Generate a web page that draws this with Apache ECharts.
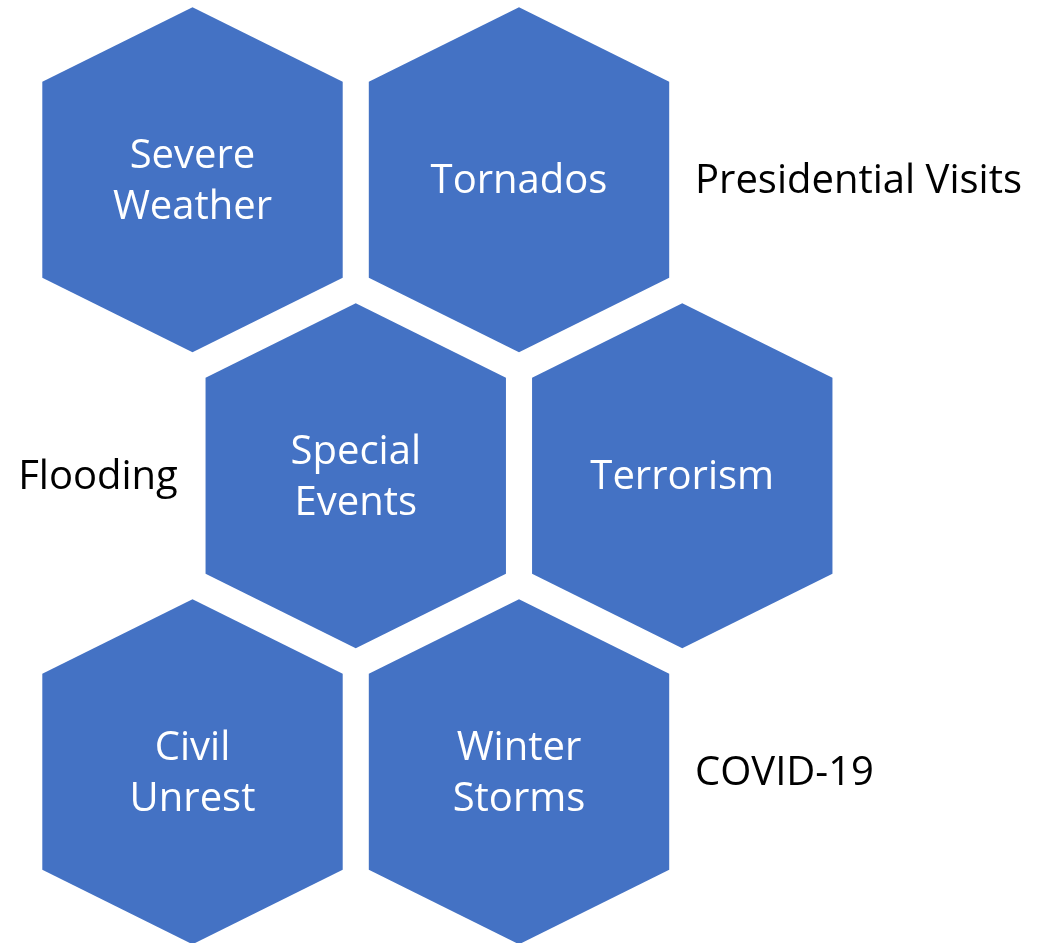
<!DOCTYPE html>
<html>
<head>
<meta charset="utf-8">
<script src="https://cdn.jsdelivr.net/npm/echarts@6/dist/echarts.min.js"></script>
<style>html,body{margin:0;padding:0;background:#fff}#c{width:1040px;height:943px}</style>
</head>
<body>
<div id="c"></div>
<script>
// Hexagon tiles: label, grid column (half-step), grid row
const hexLabels = ['Severe\nWeather', 'Tornados', 'Special\nEvents', 'Terrorism', 'Civil\nUnrest', 'Winter\nStorms'];
const hexCol = [0, 2, 1, 3, 0, 2];
const hexRow = [0, 0, 1, 1, 2, 2];
// Free-standing labels beside the honeycomb
const sideLabels = ['Presidential Visits', 'Flooding', 'COVID-19'];
const sideCol = [3.078, -1.068, 3.078];
const sideRow = [0, 1, 2];

const HEX_FILL = '#4472C4';
const FONT = 'Open Sans';
const FONT_SIZE = 40;

const chart = echarts.init(document.getElementById('c'), null, {renderer: 'canvas'});

const hexData = hexLabels.map((t, i) => [hexCol[i], hexRow[i], t]);
const sideData = sideLabels.map((t, i) => [sideCol[i], sideRow[i], t]);

function renderHex(params, api) {
  const c = api.coord([api.value(0), api.value(1)]);
  const hw = 150.2, hh = 172.5, sh = 98;
  const pts = [
    [c[0], c[1] - hh], [c[0] + hw, c[1] - sh], [c[0] + hw, c[1] + sh],
    [c[0], c[1] + hh], [c[0] - hw, c[1] + sh], [c[0] - hw, c[1] - sh]
  ];
  return {
    type: 'group',
    children: [
      {type: 'polygon', shape: {points: pts}, style: {fill: HEX_FILL}},
      {type: 'text', style: {
        text: hexLabels[params.dataIndex], x: c[0], y: c[1] + 2,
        fill: '#ffffff', fontFamily: FONT, fontSize: FONT_SIZE, lineHeight: 51,
        align: 'center', verticalAlign: 'middle'
      }}
    ]
  };
}

function renderSide(params, api) {
  const c = api.coord([api.value(0), api.value(1)]);
  return {
    type: 'text', style: {
      text: sideLabels[params.dataIndex], x: c[0], y: c[1] + 2,
      fill: '#000000', fontFamily: FONT, fontSize: FONT_SIZE,
      align: 'left', verticalAlign: 'middle'
    }
  };
}

chart.setOption({
  animation: false,
  grid: {left: 0, right: 0, top: 0, bottom: 0},
  xAxis: {type: 'value', min: -1.1792, max: 5.1914, show: false},
  yAxis: {type: 'value', min: -0.6074, max: 2.5784, inverse: true, show: false},
  series: [
    {type: 'custom', renderItem: renderHex, data: hexData, silent: true},
    {type: 'custom', renderItem: renderSide, data: sideData, silent: true}
  ]
});
</script>
</body>
</html>
